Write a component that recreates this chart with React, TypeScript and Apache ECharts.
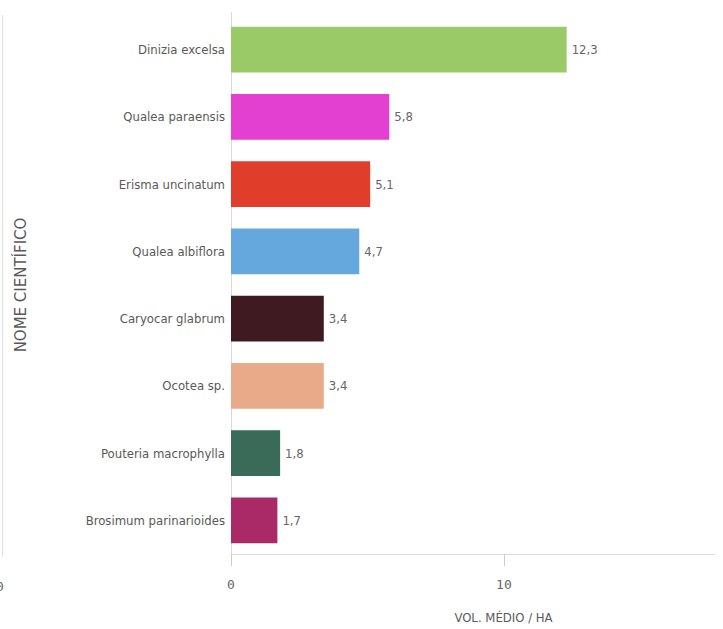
import React, { useEffect, useRef } from "react";
import * as echarts from "echarts";

const categories = [
  "Dinizia excelsa",
  "Qualea paraensis",
  "Erisma uncinatum",
  "Qualea albiflora",
  "Caryocar glabrum",
  "Ocotea sp.",
  "Pouteria macrophylla",
  "Brosimum parinarioides",
];
const values = [12.3, 5.8, 5.1, 4.7, 3.4, 3.4, 1.8, 1.7];
const colors = [
  "#9AC968",
  "#E33FD0",
  "#E03E2B",
  "#64A8DE",
  "#3F1A20",
  "#E8AA88",
  "#396B58",
  "#AA2A68",
];

const FONT = "'DejaVu Sans Condensed', 'Liberation Sans Narrow', 'Roboto', sans-serif";

export default function App() {
  const ref = useRef<HTMLDivElement>(null);
  useEffect(() => {
    if (!ref.current) return;
    const chart = echarts.init(ref.current, undefined, { renderer: "svg" });
    chart.setOption({
      animation: false,
      backgroundColor: "#ffffff",
      grid: { left: 231, right: 9, top: 16, bottom: 73, containLabel: false },
      xAxis: {
        type: "value",
        min: 0,
        max: 17.7,
        interval: 10,
        name: "VOL. MÉDIO / HA",
        nameLocation: "middle",
        nameGap: 57,
        nameTextStyle: {
          color: "#595959",
          fontSize: 13,
          fontFamily: FONT,
          padding: [0, 0, 0, 62],
        },
        axisLine: { show: true, lineStyle: { color: "#d9d9d9", width: 1 } },
        axisTick: { show: true, length: 12, lineStyle: { color: "#cccccc" } },
        splitLine: { show: false },
        axisLabel: {
          color: "#666666",
          fontSize: 13,
          fontFamily: "'DejaVu Sans Mono', monospace",
          margin: 24,
          showMaxLabel: false,
          formatter: (v: number) => String(v),
        },
      },
      yAxis: {
        type: "category",
        data: categories,
        inverse: true,
        name: "NOME CIENTÍFICO",
        nameLocation: "middle",
        nameRotate: 90,
        nameGap: 203,
        nameTextStyle: {
          color: "#595959",
          fontSize: 15,
          fontFamily: "'DejaVu Sans', sans-serif",
        },
        axisLine: { show: true, lineStyle: { color: "#d9d9d9", width: 1 } },
        axisTick: { show: false },
        axisLabel: {
          color: "#595959",
          fontSize: 13,
          fontFamily: FONT,
          margin: 6,
        },
      },
      series: [
        {
          type: "bar",
          data: values.map((v, i) => ({ value: v, itemStyle: { color: colors[i] } })),
          barCategoryGap: "32%",
          label: {
            show: true,
            position: "right",
            distance: 5,
            color: "#666666",
            fontSize: 13,
            fontFamily: FONT,
            formatter: (p: any) => String(p.value).replace(".", ","),
          },
        },
      ],
      graphic: [
        {
          type: "line",
          shape: { x1: 2.5, y1: 15, x2: 2.5, y2: 556 },
          style: { stroke: "#e0e0e0", lineWidth: 1 },
        },
        {
          type: "line",
          shape: { x1: 231.5, y1: 12, x2: 231.5, y2: 16 },
          style: { stroke: "#d9d9d9", lineWidth: 1 },
        },
        {
          type: "text",
          x: -4,
          y: 586,
          style: {
            text: "0",
            fill: "#666666",
            font: "13px 'DejaVu Sans Mono', monospace",
            textVerticalAlign: "middle",
          },
        },
      ],
    });
    return () => chart.dispose();
  }, []);
  return (
    <div
      ref={ref}
      style={{ position: "fixed", left: 0, top: 0, width: 723, height: 629 }}
    />
  );
}
